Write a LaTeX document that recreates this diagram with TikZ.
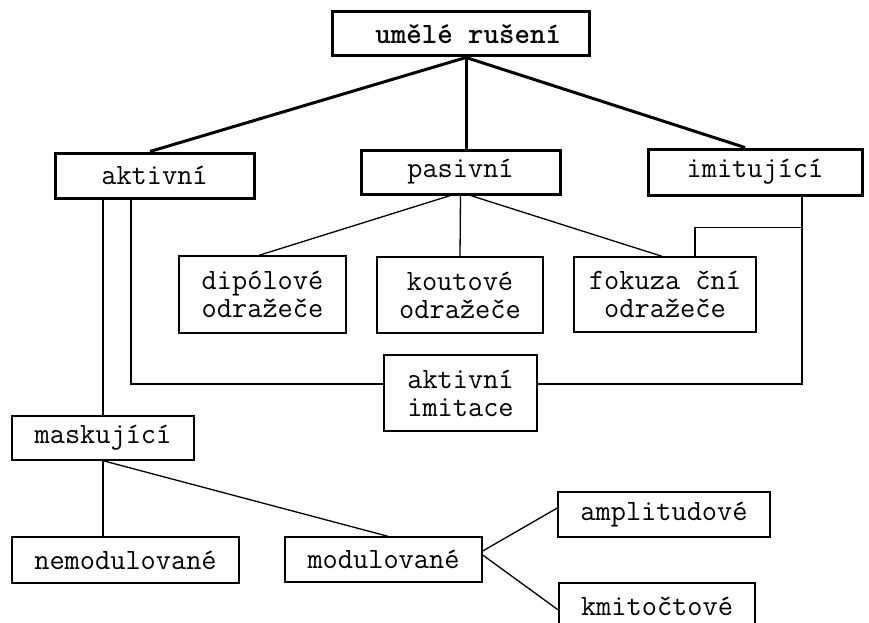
\documentclass[tikz,border=0pt]{standalone}
\usepackage{fontspec}
\begin{document}
\begin{tikzpicture}[x=1pt, y=-1pt,
    font=\ttfamily\fontsize{29.5}{28}\selectfont,
    mainbox/.style={draw, line width=3pt, inner sep=0pt, align=center},
    subbox/.style={draw, line width=1.4pt, inner sep=0pt, align=center},
    thin/.style={line width=1.3pt},
    thick/.style={line width=3pt}]
    \useasboundingbox (0,0) rectangle (869,623);
    \node[mainbox, minimum width=257pt, minimum height=44pt] (top) at (460.5,34) {\textbf{\ umělé rušení}};
    \node[mainbox, minimum width=199pt, minimum height=45pt] (akt) at (154.5,175.5) {aktivní};
    \node[mainbox, minimum width=199pt, minimum height=44pt] (pas) at (460.5,172) {pasivní};
    \node[mainbox, minimum width=214pt, minimum height=46pt] (imi) at (755,172) {imitující};
    \node[subbox, minimum width=167pt, minimum height=77pt] (dip) at (262.5,294.5) {dipólové\\odražeče};
    \node[subbox, minimum width=166pt, minimum height=76pt] (kout) at (460,295) {koutové\\odražeče};
    \node[subbox, minimum width=182pt, minimum height=75pt] (fok) at (665,294.5) {fokuza ční\\odražeče};
    \node[subbox, minimum width=153pt, minimum height=76pt] (aimit) at (460.5,393) {aktivní\\imitace};
    \node[subbox, minimum width=182pt, minimum height=44pt] (mask) at (103,438) {maskující};
    \node[subbox, minimum width=227pt, minimum height=46pt] (nemod) at (125.5,560) {nemodulované};
    \node[subbox, minimum width=197pt, minimum height=45pt] (mod) at (383.5,559.5) {modulované};
    \node[subbox, minimum width=212pt, minimum height=45pt] (ampl) at (664,514.5) {amplitudové};
    \node[subbox, minimum width=196pt, minimum height=46pt] (kmit) at (657,606) {kmitočtové};
    \coordinate (apex) at ([xshift=5.5pt]top.south);
    \draw[thick] (apex) -- ([xshift=-4.5pt]akt.north);
    \draw[thick] (apex) -- (apex |- pas.north);
    \draw[thick] (apex) -- ([xshift=-10pt]imi.north);
    \draw[thin] ([xshift=-10pt]pas.south) -- ([xshift=-3.5pt]dip.north);
    \draw[thin] (pas.south) -- (kout.north);
    \draw[thin] ([xshift=10pt]pas.south) -- ([xshift=-3pt]fok.north);
    \coordinate (imidown) at ([xshift=47pt]imi.south);
    \coordinate (fokup) at ([xshift=30pt]fok.north);
    \draw[thin] (imidown) |- ([yshift=9pt]aimit.east);
    \draw[thin] (fokup) |- ([yshift=-31pt]imidown);
    \draw[thin] ([xshift=-23.5pt]akt.south) |- ([yshift=9pt]aimit.west);
    \draw[thin] (akt.south -| mask.north) -- (mask.north);
    \draw[thin] (mask.south) -- (mask.south |- nemod.north);
    \draw[thin] (mask.south) -- ([xshift=4.5pt]mod.north);
    \draw[thin] ([yshift=8.5pt]mod.east) -- ([yshift=6.5pt]ampl.west);
    \draw[thin] ([yshift=4.5pt]mod.east) -- ([yshift=-4pt]kmit.west);
\end{tikzpicture}
\end{document}
